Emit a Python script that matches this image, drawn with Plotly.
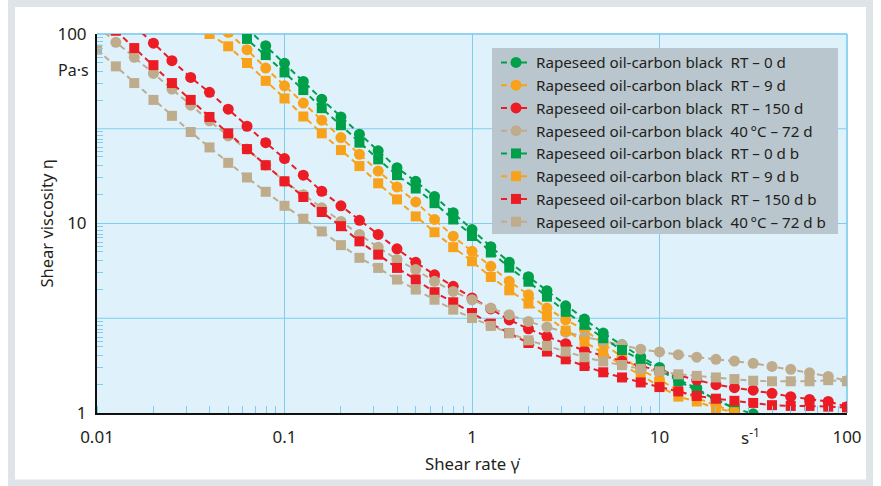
import plotly.graph_objects as go

# Shear rate grid (s^-1), 10 points per decade
shear_rate = [0.01, 0.0126, 0.0158, 0.02, 0.0251, 0.0316, 0.0398, 0.0501, 0.0631, 0.0794,
              0.1, 0.126, 0.158, 0.2, 0.251, 0.316, 0.398, 0.501, 0.631, 0.794,
              1.0, 1.26, 1.58, 2.0, 2.51, 3.16, 3.98, 5.01, 6.31, 7.94,
              10.0, 12.6, 15.8, 20.0, 25.1, 31.6, 39.8, 50.1, 63.1, 79.4, 100.0]

# Shear viscosity (Pa·s) per series, with the index of the first shear rate
rt0_start = 8
rt0 = [107, 86.7, 70.0, 56.2, 45.3, 36.5, 29.6, 24.2, 19.7, 16.7, 13.9, 11.4, 9.29, 7.55,
       6.25, 5.24, 4.42, 3.68, 3.13, 2.64, 2.29, 1.98, 1.74, 1.50, 1.35, 1.17, 1.06, 0.99]
rt9_start = 7
rt9 = [102, 82.6, 66.1, 53.3, 43.2, 35.1, 28.4, 23.2, 18.9, 15.6, 13.0, 10.5, 8.57, 7.13,
       5.94, 4.95, 4.21, 3.58, 3.10, 2.75, 2.32, 1.97, 1.69, 1.50, 1.31, 1.20, 1.10, 1.01]
rt150_start = 2
rt150 = [110, 89.5, 72.3, 59.0, 49.2, 40.1, 32.6, 26.7, 22.0, 18.0, 14.8, 12.4, 10.4, 8.75,
         7.35, 6.24, 5.36, 4.66, 4.05, 3.54, 3.10, 2.78, 2.54, 2.32, 2.14, 2.00, 1.88, 1.77,
         1.67, 1.57, 1.49, 1.41, 1.36, 1.32, 1.27, 1.22, 1.18, 1.15, 1.08]
c40_start = 0
c40 = [110, 90.4, 75.3, 61.9, 51.2, 42.1, 34.8, 29.0, 24.7, 20.3, 16.7, 14.2, 12.1, 10.25,
       8.75, 7.50, 6.46, 5.71, 4.95, 4.38, 3.96, 3.58, 3.30, 3.04, 2.84, 2.67, 2.52, 2.40,
       2.29, 2.17, 2.10, 2.03, 1.97, 1.92, 1.88, 1.83, 1.76, 1.70, 1.63, 1.56, 1.48]
rt0b_start = 7
rt0b = [115, 94.2, 77.4, 62.7, 50.6, 40.6, 33.0, 26.7, 21.8, 18.0, 15.3, 12.8, 10.5, 8.59,
        7.03, 5.85, 4.93, 4.11, 3.42, 2.92, 2.48, 2.15, 1.91, 1.69, 1.47, 1.32, 1.17, 1.06]
rt9b_start = 6
rt9b = [100, 86.1, 70.3, 56.6, 45.7, 36.7, 29.9, 24.4, 20.1, 16.3, 13.4, 10.9, 8.99, 7.50,
        6.32, 5.22, 4.44, 3.78, 3.24, 2.72, 2.38, 2.07, 1.79, 1.59, 1.38, 1.22, 1.15, 1.06, 1.01]
rt150b_start = 1
rt150b = [104, 84.3, 68.5, 55.1, 44.9, 36.5, 29.9, 24.7, 20.3, 16.7, 13.8, 11.5, 9.68, 8.05,
          6.85, 5.83, 5.06, 4.34, 3.84, 3.37, 2.96, 2.64, 2.34, 2.11, 1.92, 1.77, 1.64, 1.54,
          1.45, 1.37, 1.30, 1.23, 1.19, 1.16, 1.13, 1.10, 1.09, 1.09, 1.08, 1.07]
c40b_start = 0
c40b = [82.6, 67.5, 55.1, 44.9, 37.0, 30.4, 25.2, 20.9, 17.5, 14.7, 12.4, 10.6, 9.08, 7.69,
        6.59, 5.83, 5.06, 4.48, 3.96, 3.51, 3.17, 2.88, 2.64, 2.42, 2.26, 2.11, 1.97, 1.87,
        1.79, 1.71, 1.66, 1.60, 1.57, 1.54, 1.51, 1.48, 1.47, 1.47, 1.47, 1.49, 1.47]

NB = "\u00a0"
names = [
    f"Rapeseed oil-carbon black{NB}{NB}RT – 0 d",
    f"Rapeseed oil-carbon black{NB}{NB}RT – 9 d",
    f"Rapeseed oil-carbon black{NB}{NB}RT – 150 d",
    f"Rapeseed oil-carbon black{NB}{NB}40\u2009°C – 72 d",
    f"Rapeseed oil-carbon black{NB}{NB}RT – 0 d b",
    f"Rapeseed oil-carbon black{NB}{NB}RT – 9 d b",
    f"Rapeseed oil-carbon black{NB}{NB}RT – 150 d b",
    f"Rapeseed oil-carbon black{NB}{NB}40\u2009°C – 72 d b",
]
series = [(rt0_start, rt0), (rt9_start, rt9), (rt150_start, rt150), (c40_start, c40),
          (rt0b_start, rt0b), (rt9b_start, rt9b), (rt150b_start, rt150b), (c40b_start, c40b)]
colors = ["#00a04b", "#f8a21c", "#ec1c24", "#bfac8c"] * 2
symbols = ["circle"] * 4 + ["square"] * 4

fig = go.Figure()
for (start, vals), name, col, sym in zip(series, names, colors, symbols):
    fig.add_trace(go.Scatter(
        x=shear_rate[start:start + len(vals)], y=vals, name=name,
        mode="lines+markers",
        line=dict(color=col, width=2, dash="6px,4px"),
        marker=dict(symbol=sym, size=11 if sym == "circle" else 10, color=col),
    ))

# plot area in pixels: x 97..847, y 34..413
W, H = 881, 486
L, R, T, B = 97, 847, 34, 413
def px(x):
    return (x - L) / (R - L)
def py(y):
    return (B - y) / (B - T)

grid = "#80cdef"
# half-decade minor tick pattern on the y axis
y_off = [3, 7, 11, 14, 19, 23, 28, 37, 49, 66]
y_minor = []
for top in [100, 31.62, 10, 3.162]:
    for o in y_off:
        y_minor.append(top * 10 ** (-o / 189))

font = "Noto Sans"
txt = "#231f20"
fig.update_layout(
    width=W, height=H,
    margin=dict(l=L, r=W - R, t=T, b=H - B),
    paper_bgcolor="white", plot_bgcolor="#dff2fb",
    font=dict(family=font, size=17, color=txt),
    showlegend=True,
    legend=dict(x=px(496), y=py(46), xanchor="left", yanchor="top",
                bgcolor="rgba(0,0,0,0)", borderwidth=0,
                font=dict(family=font, size=15.2, color=txt),
                tracegroupgap=0, itemwidth=30),
    xaxis=dict(type="log", range=[-2, 2],
               tickvals=[0.01, 0.1, 1, 10, 100], ticktext=["0.01", "0.1", "1", "10", "100"],
               ticks="", showline=True, linecolor="#111", linewidth=2,
               showgrid=True, gridcolor=grid, gridwidth=1, zeroline=False,
               ticklabelstandoff=8,
               minor=dict(ticks="inside", ticklen=7, tickcolor=grid, tickwidth=1,
                          showgrid=False, dtick="D1")),
    yaxis=dict(type="log", range=[0, 2],
               tickvals=[1, 10, 100], ticktext=["1", "10", "100"],
               ticks="", showline=True, linecolor="#111", linewidth=2,
               showgrid=True, gridcolor=grid, gridwidth=1, zeroline=False,
               ticklabelstandoff=5,
               minor=dict(ticks="inside", ticklen=6, tickcolor=grid, tickwidth=1,
                          tickvals=y_minor, showgrid=False)),
    shapes=[
        # extra half-decade grid lines
        dict(type="line", xref="paper", yref="y", x0=0, x1=1, y0=31.62, y1=31.62,
             line=dict(color=grid, width=1), layer="below"),
        dict(type="line", xref="paper", yref="y", x0=0, x1=1, y0=3.162, y1=3.162,
             line=dict(color=grid, width=1), layer="below"),
        # top and right blue frame
        dict(type="line", xref="paper", yref="paper", x0=0, x1=1, y0=1, y1=1,
             line=dict(color="#8fd4f2", width=2), layer="below"),
        dict(type="line", xref="paper", yref="paper", x0=1, x1=1, y0=0, y1=1,
             line=dict(color="#8fd4f2", width=2), layer="below"),
        # outer grey frame
        dict(type="rect", xref="paper", yref="paper",
             x0=px(11.5), x1=px(869.5), y0=py(483), y1=py(3.5),
             line=dict(color="#dfe4e9", width=7), layer="below"),
        # legend box
        dict(type="rect", xref="paper", yref="paper",
             x0=px(492), x1=px(838), y0=py(234), y1=py(48),
             fillcolor="#b9c6ce", line=dict(width=0), layer="above", opacity=1),
    ],
    annotations=[
        dict(text="Pa·s", xref="paper", yref="paper", x=px(91), y=py(70),
             xanchor="right", yanchor="middle", showarrow=False,
             font=dict(family=font, size=16, color=txt)),
        dict(text="s<sup>-1</sup>", xref="paper", yref="paper", x=px(750), y=py(436),
             xanchor="center", yanchor="middle", showarrow=False,
             font=dict(family=font, size=17, color=txt)),
        dict(text="Shear viscosity η", xref="paper", yref="paper", x=px(46), y=0.5,
             textangle=-90, xanchor="center", yanchor="middle", showarrow=False,
             font=dict(family=font, size=16.5, color=txt)),
        dict(text="Shear rate γ̇", xref="paper", yref="paper", x=0.5, y=py(463),
             xanchor="center", yanchor="middle", showarrow=False,
             font=dict(family=font, size=16.8, color=txt)),
    ],
)

fig.write_html("out.html", config={"displayModeBar": False},
               post_script="document.body.style.margin='0px';")
